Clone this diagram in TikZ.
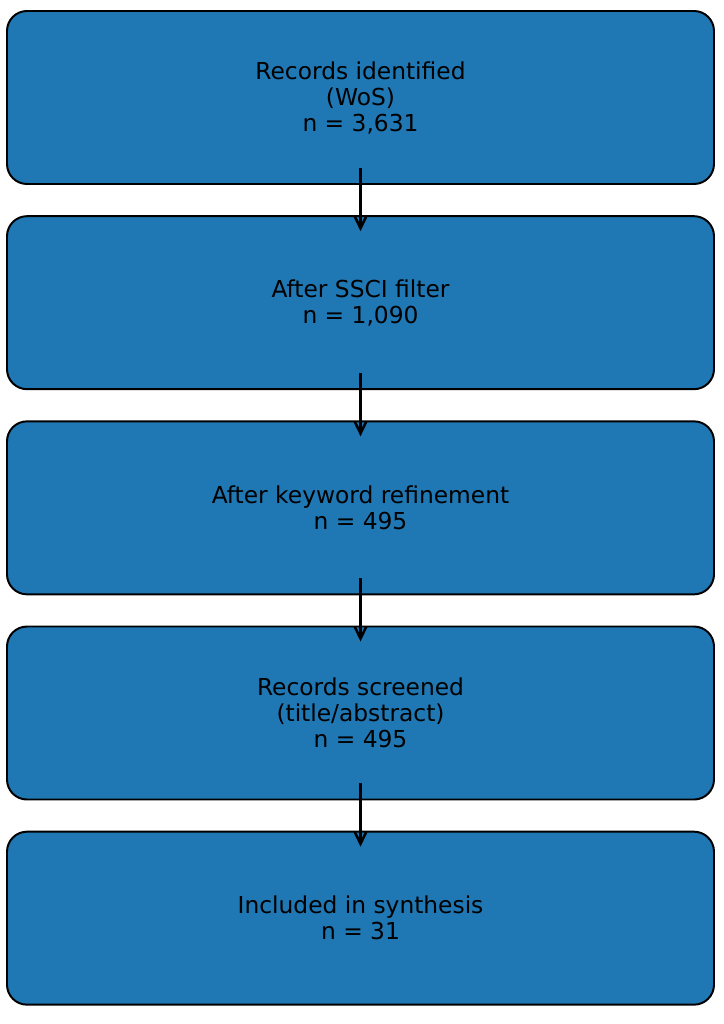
\documentclass[tikz,border=0pt]{standalone}
\usepackage{fontspec}
\setmainfont{DejaVu Sans}
\usepackage{xcolor}
\usetikzlibrary{positioning,arrows.meta}
\definecolor{BoxBlue}{RGB}{31,119,180}

\begin{document}
\begin{tikzpicture}[
  font=\fontsize{16.6}{18.5}\selectfont,
  stage/.style={draw=black, fill=BoxBlue, line width=1.4pt, rounded corners=5mm, minimum width=17.675cm, minimum height=4.325cm, align=center, inner sep=0pt, text=black},
  flow/.style={-{Straight Barb[length=3mm,width=2.9mm,line width=1.8pt]}, line width=1.8pt, color=black}
]
\useasboundingbox (0,0) rectangle (18.1,-25.6);

% Stages, top to bottom
\node[stage] (rec) at (9.0125,-2.4375) {Records identified\\(WoS)\\n = 3,631};
\node[stage, below=0.755cm of rec] (ssci) {After SSCI filter\\n = 1,090};
\node[stage, below=0.755cm of ssci] (kw) {After keyword refinement\\n = 495};
\node[stage, below=0.755cm of kw] (scr) {Records screened\\(title/abstract)\\n = 495};
\node[stage, below=0.755cm of scr] (inc) {Included in synthesis\\n = 31};

% Arrows between stages (drawn over the boxes)
\draw[flow] ([yshift=0.425cm]rec.south) -- ([yshift=-0.4cm]ssci.north);
\draw[flow] ([yshift=0.425cm]ssci.south) -- ([yshift=-0.4cm]kw.north);
\draw[flow] ([yshift=0.425cm]kw.south) -- ([yshift=-0.4cm]scr.north);
\draw[flow] ([yshift=0.425cm]scr.south) -- ([yshift=-0.4cm]inc.north);
\end{tikzpicture}
\end{document}
